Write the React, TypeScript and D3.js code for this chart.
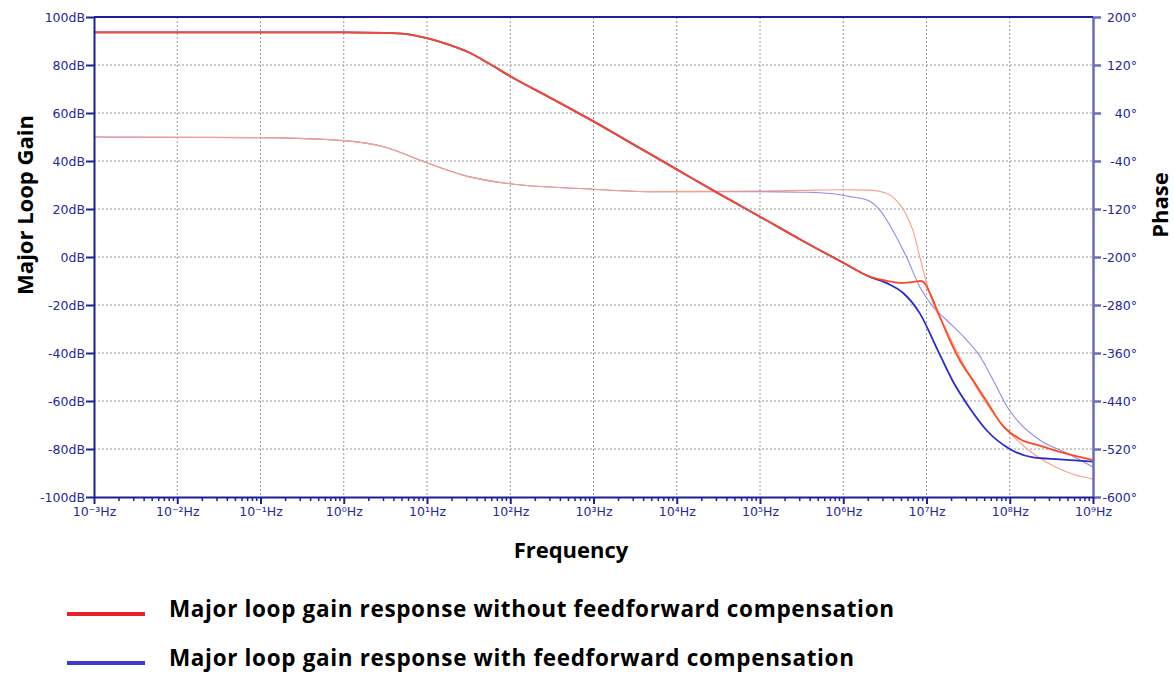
import React, { useRef, useEffect } from "react";
import * as d3 from "d3";

// frequencies are stored as powers of ten (Hz)
const gainNoFFExp = [-3, 0, 0.5, 0.75, 1, 1.25, 1.5, 1.75, 2, 2.5, 3, 3.5, 4, 4.5, 5, 5.5, 6, 6.32, 6.53, 6.72, 6.86, 6.93, 6.99, 7.04, 7.16, 7.28, 7.4, 7.56, 7.73, 7.92, 8.0, 8.12, 8.4, 8.52, 9];
const gainNoFF = [93.6, 93.6, 93.4, 92.9, 91.2, 88.6, 85.3, 80.5, 75.3, 66, 56.5, 46.5, 36.5, 26.5, 16.8, 7, -2.4, -8.2, -10, -10.8, -10.3, -10, -11.5, -15, -24.9, -34.6, -43, -51.5, -60.5, -70.5, -73, -75.8, -79, -80.4, -84.6];

const gainFFExp = [-3, 0, 0.5, 0.75, 1, 1.25, 1.5, 1.75, 2, 2.5, 3, 3.5, 4, 4.5, 5, 5.5, 6, 6.32, 6.53, 6.72, 6.92, 7.13, 7.32, 7.52, 7.73, 8.0, 8.28, 8.6, 9];
const gainFF = [93.6, 93.6, 93.4, 92.9, 91.2, 88.6, 85.3, 80.5, 75.3, 66, 56.5, 46.5, 36.5, 26.5, 16.8, 7, -2.4, -8.3, -11, -15, -23.5, -38.5, -52, -63, -72.5, -80, -83.5, -84.3, -85.3];

const phaseNoFFExp = [-3, -1, 0, 0.5, 1, 1.5, 2, 3, 3.7, 4.5, 5, 5.5, 6, 6.32, 6.5, 6.62, 6.74, 6.84, 6.92, 7.0, 7.08, 7.24, 7.4, 7.64, 7.8, 8.0, 8.21, 8.52, 8.76, 9];
const phaseNoFF = [0, -1, -6, -17, -43, -66, -78, -87, -91, -90.5, -90, -89, -88, -88.5, -93, -103, -125, -157, -200, -243, -277, -322, -367, -427, -460, -493, -520, -548, -562, -570];

const phaseFFExp = [-3, -1, 0, 0.5, 1, 1.5, 2, 3, 3.7, 4.5, 5, 5.5, 5.72, 6.0, 6.11, 6.3, 6.44, 6.6, 6.76, 6.92, 7.08, 7.24, 7.48, 7.64, 7.8, 7.97, 8.12, 8.36, 8.69, 9];
const phaseFF = [0, -1, -6, -17, -43, -66, -78, -87, -91, -91, -91, -92, -93, -97, -100, -106, -122, -157, -200, -250, -283, -305, -338, -365, -405, -450, -477, -505, -527, -550];

const decades = [-3, -2, -1, 0, 1, 2, 3, 4, 5, 6, 7, 8, 9];
const gainTicks = [-100, -80, -60, -40, -20, 0, 20, 40, 60, 80, 100];
const phaseTicks = [-600, -520, -440, -360, -280, -200, -120, -40, 40, 120, 200];

const legendItems = [
  { label: "Major loop gain response without feedforward compensation", color: "#e8202a", width: 725 },
  { label: "Major loop gain response with feedforward compensation", color: "#3b3bcc", width: 685 },
];

const sup: Record<string, string> = {
  "-": "\u207B", "0": "\u2070", "1": "\u00B9", "2": "\u00B2", "3": "\u00B3",
  "4": "\u2074", "5": "\u2075", "6": "\u2076", "7": "\u2077", "8": "\u2078", "9": "\u2079",
};
const hzLabel = (e: number) => "10" + String(e).split("").map((c) => sup[c]).join("") + "Hz";

const axisBlue = "#1f1f9c";
const rightBlue = "#6b6bbd";
const labelBlue = "#2626a0";
const titleFont = "'Open Sans', 'Noto Sans', sans-serif";
const tickFont = "'DejaVu Sans', sans-serif";

const Chart: React.FC = () => {
  const ref = useRef<SVGSVGElement | null>(null);

  useEffect(() => {
    const svg = d3.select(ref.current);
    svg.selectAll("*").remove();

    const left = 94, right = 1093, top = 17, bottom = 497;

    const x = d3.scaleLog().domain([1e-3, 1e9]).range([left, right]);
    const yGain = d3.scaleLinear().domain([-100, 100]).range([bottom, top]);
    const yPhase = d3.scaleLinear().domain([-600, 200]).range([bottom, top]);

    // grid
    const grid = svg.append("g").attr("stroke", "#9a9a9a").attr("stroke-dasharray", "2,2").attr("stroke-width", 1);
    grid
      .selectAll("line.v")
      .data(decades.slice(1, -1))
      .enter()
      .append("line")
      .attr("x1", (d) => x(Math.pow(10, d)))
      .attr("x2", (d) => x(Math.pow(10, d)))
      .attr("y1", top)
      .attr("y2", bottom);
    grid
      .selectAll("line.h")
      .data(gainTicks.slice(1, -1))
      .enter()
      .append("line")
      .attr("x1", left)
      .attr("x2", right)
      .attr("y1", (d) => yGain(d))
      .attr("y2", (d) => yGain(d));

    // curves
    const makeLine = (yScale: d3.ScaleLinear<number, number>) =>
      d3
        .line<[number, number]>()
        .x((d) => x(Math.pow(10, d[0])))
        .y((d) => yScale(d[1]))
        .curve(d3.curveMonotoneX);

    const zipPts = (xs: number[], ys: number[]) => xs.map((e, i) => [e, ys[i]] as [number, number]);

    const series = [
      { pts: zipPts(phaseFFExp, phaseFF), scale: yPhase, color: "#8c8ce6", w: 1.1 },
      { pts: zipPts(phaseNoFFExp, phaseNoFF), scale: yPhase, color: "#ff9c82", w: 1.1 },
      { pts: zipPts(gainFFExp, gainFF), scale: yGain, color: "#2b2bd0", w: 1.8 },
      { pts: zipPts(gainNoFFExp, gainNoFF), scale: yGain, color: "#ff4820", w: 1.8 },
    ];
    series.forEach((s) => {
      svg
        .append("path")
        .attr("d", makeLine(s.scale)(s.pts))
        .attr("fill", "none")
        .attr("stroke", s.color)
        .attr("stroke-width", s.w);
    });

    // frame top
    svg.append("line").attr("x1", left).attr("x2", right).attr("y1", top).attr("y2", top)
      .attr("stroke", axisBlue).attr("stroke-width", 2);

    // left axis
    const gL = svg
      .append("g")
      .attr("transform", `translate(${left},0)`)
      .call(d3.axisLeft(yGain).tickValues(gainTicks).tickFormat((d) => d + "dB").tickSize(8).tickSizeOuter(0).tickPadding(1));
    gL.selectAll("path, line").attr("stroke", axisBlue).attr("stroke-width", 2);
    gL.selectAll("text").attr("fill", labelBlue).attr("font-family", tickFont).attr("font-size", 12.5);

    // right axis
    const gR = svg
      .append("g")
      .attr("transform", `translate(${right},0)`)
      .call(d3.axisRight(yPhase).tickValues(phaseTicks).tickFormat((d) => d + "°").tickSize(8).tickSizeOuter(0));
    gR.selectAll("path, line").attr("stroke", rightBlue).attr("stroke-width", 2.5);
    gR.selectAll("text").attr("fill", labelBlue).attr("font-family", tickFont).attr("font-size", 12.5)
      .attr("text-anchor", "end").attr("x", 44);

    // bottom axis with log minor ticks
    const minor: number[] = [];
    decades.slice(0, -1).forEach((e) => {
      for (let k = 2; k <= 9; k++) minor.push(k * Math.pow(10, e));
    });
    const gMinor = svg.append("g").attr("stroke", axisBlue).attr("stroke-width", 1.5);
    gMinor
      .selectAll("line")
      .data(minor)
      .enter()
      .append("line")
      .attr("x1", (d) => x(d))
      .attr("x2", (d) => x(d))
      .attr("y1", bottom)
      .attr("y2", bottom + 4);

    const gB = svg
      .append("g")
      .attr("transform", `translate(0,${bottom})`)
      .call(
        d3
          .axisBottom(x)
          .tickValues(decades.map((e) => Math.pow(10, e)))
          .tickFormat((d, i) => hzLabel(decades[i]))
          .tickSize(7)
          .tickSizeOuter(0)
          .tickPadding(3)
      );
    gB.selectAll("path, line").attr("stroke", axisBlue).attr("stroke-width", 2);
    gB.selectAll("text").attr("fill", labelBlue).attr("font-family", tickFont).attr("font-size", 12.5);

    // axis titles
    svg.append("text")
      .attr("transform", "translate(33,205) rotate(-90)")
      .attr("text-anchor", "middle")
      .attr("font-family", titleFont).attr("font-weight", "bold").attr("font-size", 22)
      .text("Major Loop Gain");
    svg.append("text")
      .attr("transform", "translate(1168,205) rotate(-90)")
      .attr("text-anchor", "middle")
      .attr("font-family", titleFont).attr("font-weight", "bold").attr("font-size", 22)
      .text("Phase");
    svg.append("text")
      .attr("x", 571).attr("y", 558)
      .attr("text-anchor", "middle")
      .attr("font-family", titleFont).attr("font-weight", "bold").attr("font-size", 22)
      .text("Frequency");

    // legend
    const leg = svg.append("g");
    legendItems.forEach((item, i) => {
      const ly = 614 + i * 49;
      leg.append("line").attr("x1", 67).attr("x2", 145).attr("y1", ly).attr("y2", ly)
        .attr("stroke", item.color).attr("stroke-width", 4);
      leg.append("text").attr("x", 169).attr("y", ly + 3)
        .attr("textLength", item.width)
        .attr("lengthAdjust", "spacing")
        .attr("font-family", titleFont).attr("font-weight", "bold").attr("font-size", 22.5)
        .text(item.label);
    });
  }, []);

  return <svg ref={ref} width={1174} height={673} style={{ position: "absolute", left: 0, top: 0, background: "#fff" }}></svg>;
};

export default function App() {
  return <Chart />;
}
